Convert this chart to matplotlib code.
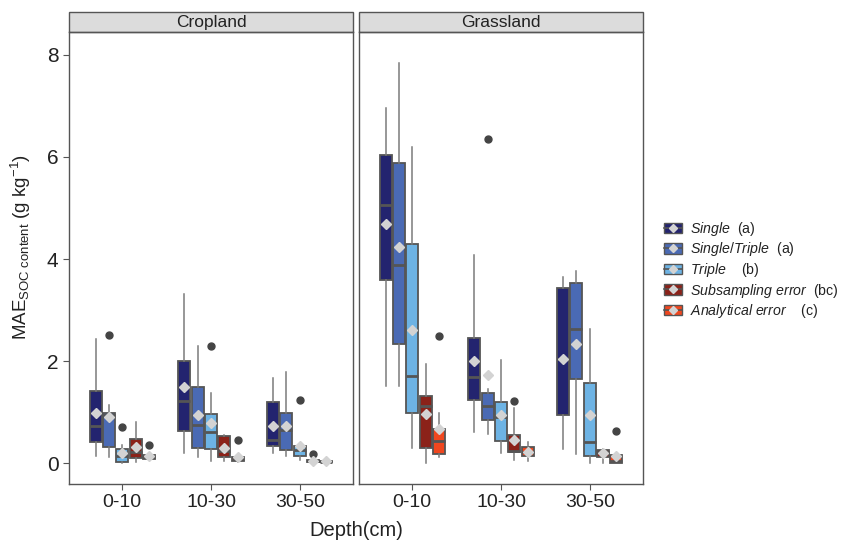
import matplotlib
matplotlib.use("Agg")
import matplotlib.pyplot as plt
from matplotlib.patches import Patch, Rectangle
from matplotlib.lines import Line2D
from matplotlib.legend_handler import HandlerTuple

plt.rcParams['font.family'] = ['Liberation Sans', 'DejaVu Sans']
plt.rcParams['mathtext.fontset'] = 'custom'
plt.rcParams['mathtext.rm'] = 'Liberation Sans'
plt.rcParams['mathtext.it'] = 'Liberation Sans:italic'

depths = ['0-10', '10-30', '30-50']
groups = ['Single', 'Single/Triple', 'Triple', 'Subsampling error', 'Analytical error']
letters = ['(a)', '(a)', '  (b)', '(bc)', '  (c)']
colors = ['#23246f', '#4a6ab4', '#6db3e4', '#8b2219', '#f0471f']
panels = ['Cropland', 'Grassland']

# per group (rows) and depth (columns)
crop_lo = [[0.14, 0.20, 0.20], [0.12, 0.12, 0.14], [0.01, 0.05, 0.07], [0.03, 0.05, 0.01], [0.06, 0.02, 0.01]]
crop_q1 = [[0.41, 0.63, 0.34], [0.32, 0.29, 0.26], [0.03, 0.28, 0.14], [0.09, 0.11, 0.02], [0.08, 0.04, 0.02]]
crop_med = [[0.73, 1.21, 0.45], [0.95, 0.75, 0.65], [0.14, 0.61, 0.26], [0.22, 0.23, 0.05], [0.12, 0.08, 0.03]]
crop_q3 = [[1.42, 2.01, 1.19], [0.98, 1.49, 0.98], [0.27, 0.96, 0.33], [0.47, 0.53, 0.07], [0.15, 0.11, 0.04]]
crop_hi = [[2.44, 3.32, 1.67], [1.14, 2.29, 1.78], [0.35, 1.37, 0.35], [0.80, 0.55, 0.08], [0.20, 0.16, 0.05]]
crop_mean = [[0.98, 1.49, 0.73], [0.91, 0.95, 0.73], [0.20, 0.78, 0.33], [0.32, 0.30, 0.05], [0.14, 0.11, 0.04]]
crop_out = [[[], [], []], [[2.51], [], []], [[0.70], [2.29], [1.24]], [[], [], [0.18]], [[0.36], [0.45], []]]

grass_lo = [[1.52, 0.60, 0.28], [1.52, 0.57, 0.17], [0.29, 0.19, 0.01], [0.01, 0.06, 0.00], [0.12, 0.05, 0.01]]
grass_q1 = [[3.59, 1.24, 0.95], [2.34, 0.85, 1.64], [0.98, 0.43, 0.14], [0.29, 0.21, 0.11], [0.18, 0.14, 0.01]]
grass_med = [[5.05, 1.68, 2.04], [3.88, 1.12, 2.62], [1.71, 0.91, 0.42], [1.12, 0.24, 0.22], [0.43, 0.22, 0.04]]
grass_q3 = [[6.04, 2.45, 3.43], [5.88, 1.37, 3.53], [4.30, 1.20, 1.57], [1.32, 0.56, 0.26], [0.67, 0.32, 0.16]]
grass_hi = [[6.97, 4.08, 3.65], [7.85, 1.45, 3.76], [6.19, 2.03, 2.62], [1.94, 1.07, 0.28], [0.98, 0.42, 0.17]]
grass_mean = [[4.68, 2.01, 2.04], [4.24, 1.73, 2.33], [2.61, 0.94, 0.94], [0.96, 0.46, 0.20], [0.67, 0.22, 0.14]]
grass_out = [[[], [], []], [[], [6.36], []], [[], [], []], [[], [1.21], []], [[2.49], [], [0.62]]]

data = {
    'Cropland': (crop_lo, crop_q1, crop_med, crop_q3, crop_hi, crop_mean, crop_out),
    'Grassland': (grass_lo, grass_q1, grass_med, grass_q3, grass_hi, grass_mean, grass_out),
}

edge = '#555555'
fig = plt.figure(figsize=(8.43, 5.5), dpi=100)
axes = [fig.add_axes([69 / 843, 66 / 550, 284 / 843, 452 / 550]),
        fig.add_axes([359 / 843, 66 / 550, 284 / 843, 452 / 550])]

for ax, name in zip(axes, panels):
    lo, q1, med, q3, hi, mean, out = data[name]
    for g in range(len(groups)):
        stats = []
        for d in range(len(depths)):
            stats.append(dict(whislo=lo[g][d], q1=q1[g][d], med=med[g][d], q3=q3[g][d],
                              whishi=hi[g][d], mean=mean[g][d], fliers=out[g][d]))
        pos = [d + 1 + (g - 2) * 0.15 for d in range(len(depths))]
        ax.bxp(stats, positions=pos, widths=0.135, patch_artist=True, showmeans=True,
               showcaps=False, manage_ticks=False,
               boxprops=dict(facecolor=colors[g], edgecolor=edge, linewidth=1.3),
               medianprops=dict(color=edge, linewidth=2),
               whiskerprops=dict(color='#7a7a7a', linewidth=1.1),
               meanprops=dict(marker='D', markerfacecolor='#d3d3d3', markeredgecolor='#d3d3d3', markersize=5),
               flierprops=dict(marker='o', markerfacecolor='#444444', markeredgecolor='#444444', markersize=5))
    ax.set_xlim(0.4, 3.6)
    ax.set_ylim(-0.41, 8.45)
    ax.set_xticks([1, 2, 3])
    ax.set_xticklabels(depths)
    ax.set_yticks([0, 2, 4, 6, 8])
    ax.tick_params(colors='#555555', length=4, width=0.8, labelcolor='#222222')
    ax.tick_params(axis='x', labelsize=14)
    ax.tick_params(axis='y', labelsize=15)
    for sp in ax.spines.values():
        sp.set_color('#555555')
        sp.set_linewidth(1.0)
    # facet strip
    ax.add_patch(Rectangle((0, 1.0), 1, 0.044, transform=ax.transAxes, clip_on=False,
                           facecolor='#dcdcdc', edgecolor='#555555', linewidth=1.0))
    ax.text(0.5, 1.022, name, transform=ax.transAxes, ha='center', va='center',
            fontsize=12.5, color='#222222')

axes[1].tick_params(axis='y', left=False, labelleft=False)
axes[0].set_ylabel(r'MAE$_{\mathrm{SOC\ content}}$ (g kg$^{\mathrm{-1}}$)', fontsize=13.5,
                   color='#222222')
axes[0].yaxis.set_label_coords(-0.128, 0.525)
fig.text(356 / 843, 0.018, 'Depth(cm)', ha='center', va='bottom', fontsize=14.5, color='#222222')

handles = []
labels = []
for g in range(len(groups)):
    box = Patch(facecolor=colors[g], edgecolor=edge, linewidth=1.0)
    dot = Line2D([], [], color=edge, linewidth=1.2, marker='D', markersize=4,
                 markerfacecolor='#d3d3d3', markeredgecolor='#d3d3d3')
    handles.append((box, dot))
    nm = groups[g].replace(' ', r'\ ')
    labels.append(r'$\mathit{' + nm + '}$  ' + letters[g])

fig.legend(handles, labels, handler_map={tuple: HandlerTuple(ndivide=1)},
           loc='center left', bbox_to_anchor=(664 / 843, 1 - 270 / 550), frameon=False,
           fontsize=10.2, handlelength=1.25, handleheight=0.75, labelspacing=0.18,
           handletextpad=0.6, labelcolor='#222222', borderaxespad=0, borderpad=0)

fig.savefig('out.png', dpi=100)
